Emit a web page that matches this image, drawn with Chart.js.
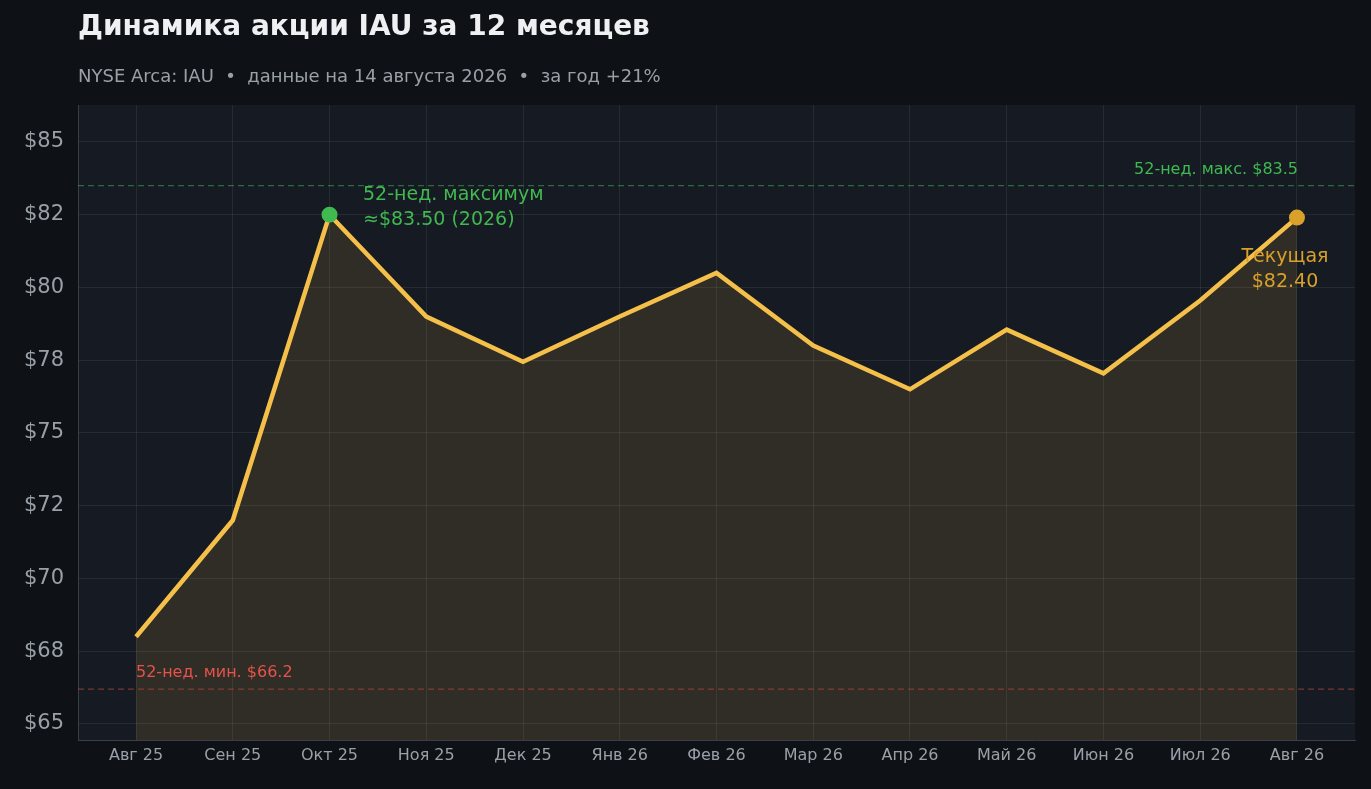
<!DOCTYPE html>
<html><head><meta charset="utf-8">
<script src="https://cdn.jsdelivr.net/npm/chart.js@4"></script>
<style>html,body{margin:0;padding:0;background:#0e1216;}#w{width:1371px;height:789px;}</style>
</head><body><div id="w"><canvas id="c"></canvas></div>
<script>
const categories=["Авг 25","Сен 25","Окт 25","Ноя 25","Дек 25","Янв 26","Фев 26","Мар 26","Апр 26","Май 26","Июн 26","Июл 26","Авг 26"];
const prices=[68.0,72.0,82.5,79.0,77.45,79.0,80.5,78.0,76.5,78.55,77.05,79.55,82.4];
const yTicks=[65,67.5,70,72.5,75,77.5,80,82.5,85];
const yTickLabels=["$65","$68","$70","$72","$75","$78","$80","$82","$85"];
const high52=83.5, low52=66.2;
const F="'DejaVu Sans', sans-serif";
const pts=prices.map((v,i)=>({x:i,y:v}));
const deco={id:'deco',
beforeDraw(ch){const c=ch.ctx,a=ch.chartArea;c.save();c.fillStyle='#0e1216';c.fillRect(0,0,ch.width,ch.height);
c.fillStyle='#161a22';c.fillRect(a.left,a.top,a.right-a.left,a.bottom-a.top);
c.fillStyle='#eef0f2';c.font='bold 28px '+F;c.textBaseline='middle';c.fillText('Динамика акции IAU за 12 месяцев',78,28);
c.fillStyle='#9aa0a8';c.font='18px '+F;c.fillText('NYSE Arca: IAU  •  данные на 14 августа 2026  •  за год +21%',78,77);c.restore();},
afterDatasetsDraw(ch){const c=ch.ctx,a=ch.chartArea,x=ch.scales.x,y=ch.scales.y;c.save();
c.setLineDash([6,4]);c.lineWidth=1.3;
c.strokeStyle='rgba(60,160,80,0.6)';let yh=y.getPixelForValue(high52);c.beginPath();c.moveTo(a.left,yh);c.lineTo(a.right,yh);c.stroke();
c.strokeStyle='rgba(190,70,60,0.6)';let yl=y.getPixelForValue(low52);c.beginPath();c.moveTo(a.left,yl);c.lineTo(a.right,yl);c.stroke();
c.setLineDash([]);c.font='16px '+F;c.textBaseline='middle';
c.fillStyle='#3fb950';c.textAlign='right';c.fillText('52-нед. макс. $83.5',1298,yh-16);
c.fillStyle='#e5534b';c.textAlign='left';c.fillText('52-нед. мин. $66.2',136,yl-16);
c.font='19px '+F;c.fillStyle='#3fb950';c.fillText('52-нед. максимум',363,195);c.fillText('≈$83.50 (2026)',363,220);
c.fillStyle='#d9a12a';c.textAlign='center';c.fillText('Текущая',1285,257);c.fillText('$82.40',1285,282);
c.fillStyle='#3fb950';c.beginPath();c.arc(x.getPixelForValue(2),y.getPixelForValue(prices[2]),8,0,7);c.fill();
c.fillStyle='#d9a12a';c.beginPath();c.arc(x.getPixelForValue(12),y.getPixelForValue(prices[12]),8,0,7);c.fill();
c.restore();}};
new Chart(document.getElementById('c'),{type:'line',
data:{datasets:[{data:pts,borderColor:'#f5c04a',borderWidth:4.5,pointRadius:0,tension:0,fill:'origin',backgroundColor:'rgba(235,185,70,0.12)'}]},
options:{responsive:true,maintainAspectRatio:false,animation:false,layout:{padding:{top:105,right:16,left:0,bottom:0}},
plugins:{legend:{display:false},tooltip:{enabled:false}},
scales:{x:{type:'linear',min:-0.6,max:12.6,afterBuildTicks:s=>{s.ticks=categories.map((_,i)=>({value:i}));},
ticks:{color:'#9aa0a8',font:{family:F,size:16},callback:v=>categories[v],maxRotation:0,autoSkip:false,padding:6},
grid:{color:'rgba(255,255,255,0.07)',tickLength:0},border:{color:'#3a3f47'},afterFit:s=>{s.height=49;}},
y:{min:64.45,max:86.27,afterBuildTicks:s=>{s.ticks=yTicks.map(v=>({value:v}));},
ticks:{color:'#9aa0a8',font:{family:F,size:21},callback:v=>yTickLabels[yTicks.indexOf(v)],padding:14},
grid:{color:'rgba(255,255,255,0.07)',tickLength:0},border:{color:'#3a3f47'},afterFit:s=>{s.width=78;}}}},
plugins:[deco]});
</script></body></html>
